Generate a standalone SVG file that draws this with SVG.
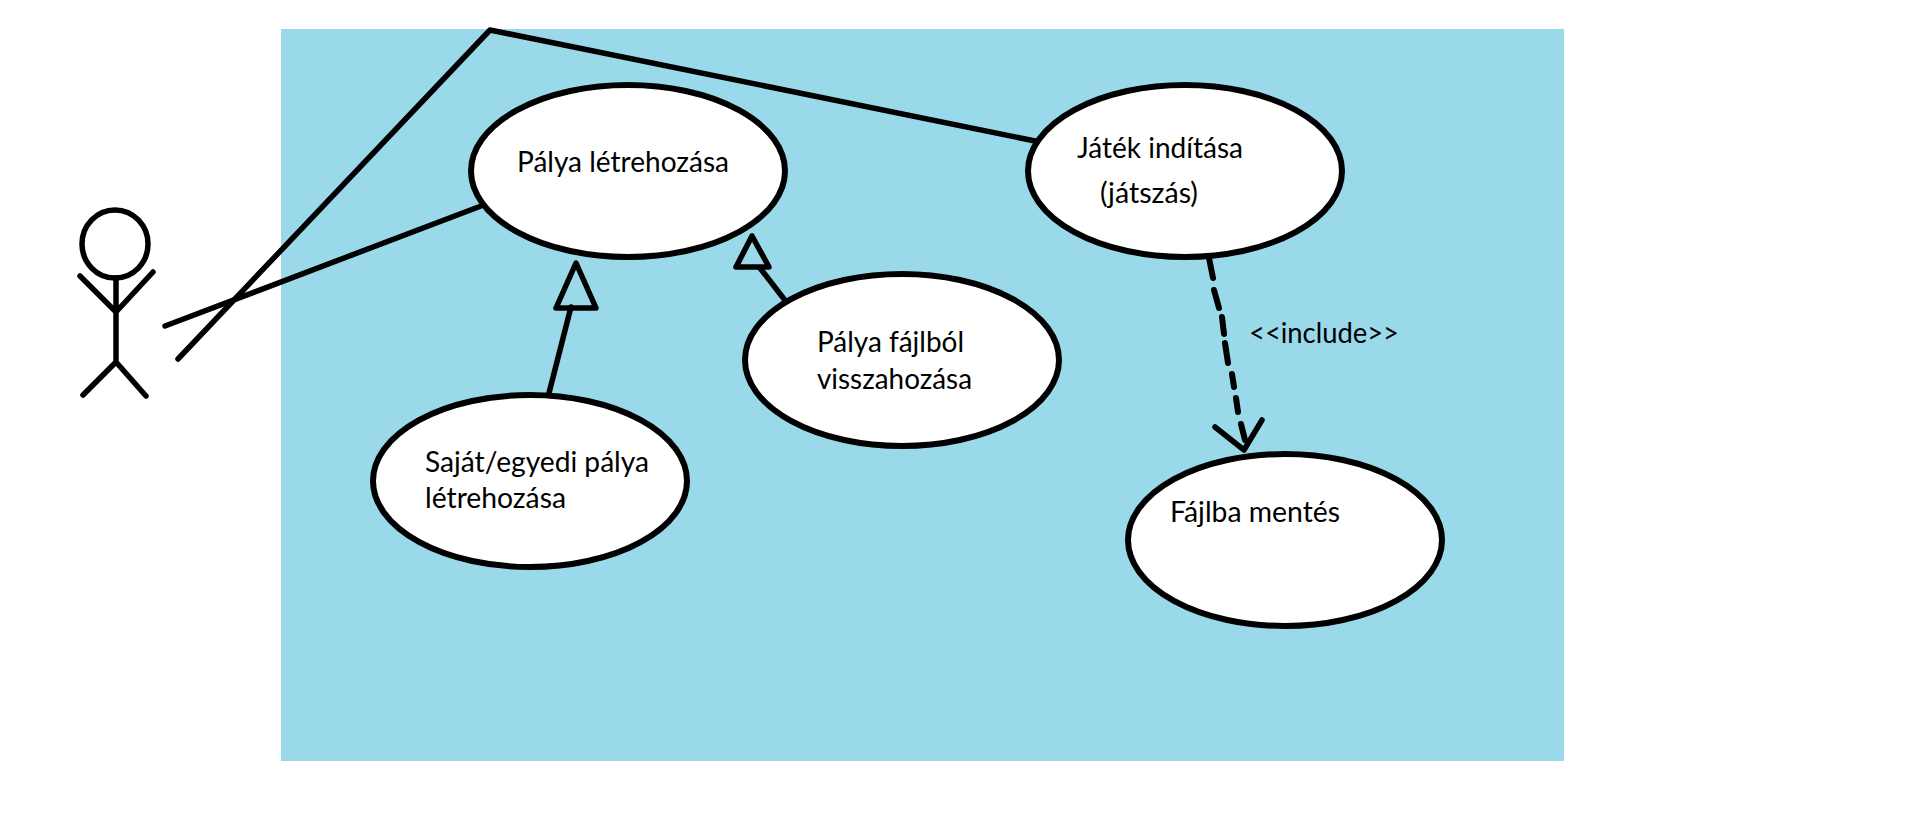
<svg xmlns="http://www.w3.org/2000/svg" width="1911" height="818" viewBox="0 0 1911 818">
<style>
.ln{fill:none;stroke:#000;stroke-width:5.5;stroke-linecap:round;stroke-linejoin:round}
.uc{fill:#fff;stroke:#000;stroke-width:6}
.tx{font-family:"Lato","Open Sans",sans-serif;font-size:29px;fill:#000}
</style>
<rect width="1911" height="818" fill="#fff"/>
<rect id="boundary" x="281" y="29" width="1283" height="732" fill="#99d9ea"/>
<g id="connectors">
<path class="ln" d="M178 359L490 30L1035 141"/>
<path class="ln" d="M165 326L481 206"/>
<path class="ln" d="M549 393L571 307"/>
<path class="ln" d="M576 263L556 308L596 308Z"/>
<path class="ln" d="M784 299L760 268"/>
<path class="ln" d="M752 236L736 267L769 267Z"/>
<path class="ln" style="stroke-width:6" d="M1209 258L1213 278M1214 290L1219 308M1222 317L1224 334M1225 343L1228 363M1232 374L1234 387M1236 398L1238 412M1241 424L1245 440"/>
<path class="ln" d="M1215 427L1244 450L1262 420"/>
</g>
<g id="actor">
<ellipse cx="115" cy="244" rx="33" ry="34" fill="none" stroke="#000" stroke-width="5.5"/>
<path class="ln" d="M116 278V362M80 276L116 312L153 272M83 395L116 362L146 396"/>
</g>
<g id="uc-palya"><ellipse class="uc" cx="628" cy="171" rx="157" ry="86"/>
<text class="tx" x="517" y="172" textLength="212" lengthAdjust="spacingAndGlyphs">Pálya létrehozása</text></g>
<g id="uc-fajlbol"><ellipse class="uc" cx="902" cy="360" rx="157" ry="86"/>
<text class="tx" x="817" y="352" textLength="147" lengthAdjust="spacingAndGlyphs">Pálya fájlból</text>
<text class="tx" x="817" y="389" textLength="155" lengthAdjust="spacingAndGlyphs">visszahozása</text></g>
<g id="uc-sajat"><ellipse class="uc" cx="530" cy="481" rx="157" ry="86"/>
<text class="tx" x="425" y="472" textLength="224" lengthAdjust="spacingAndGlyphs">Saját/egyedi pálya</text>
<text class="tx" x="425" y="508" textLength="141" lengthAdjust="spacingAndGlyphs">létrehozása</text></g>
<g id="uc-jatek"><ellipse class="uc" cx="1185" cy="171" rx="157" ry="86"/>
<text class="tx" x="1077" y="158" textLength="166" lengthAdjust="spacingAndGlyphs">Játék indítása</text>
<text class="tx" x="1100" y="203" textLength="98" lengthAdjust="spacingAndGlyphs">(játszás)</text></g>
<g id="uc-mentes"><ellipse class="uc" cx="1285" cy="540" rx="157" ry="86"/>
<text class="tx" x="1170" y="522" textLength="170" lengthAdjust="spacingAndGlyphs">Fájlba mentés</text></g>
<text id="include-label" class="tx" x="1249" y="343" textLength="150" lengthAdjust="spacingAndGlyphs">&lt;&lt;include&gt;&gt;</text>
</svg>
